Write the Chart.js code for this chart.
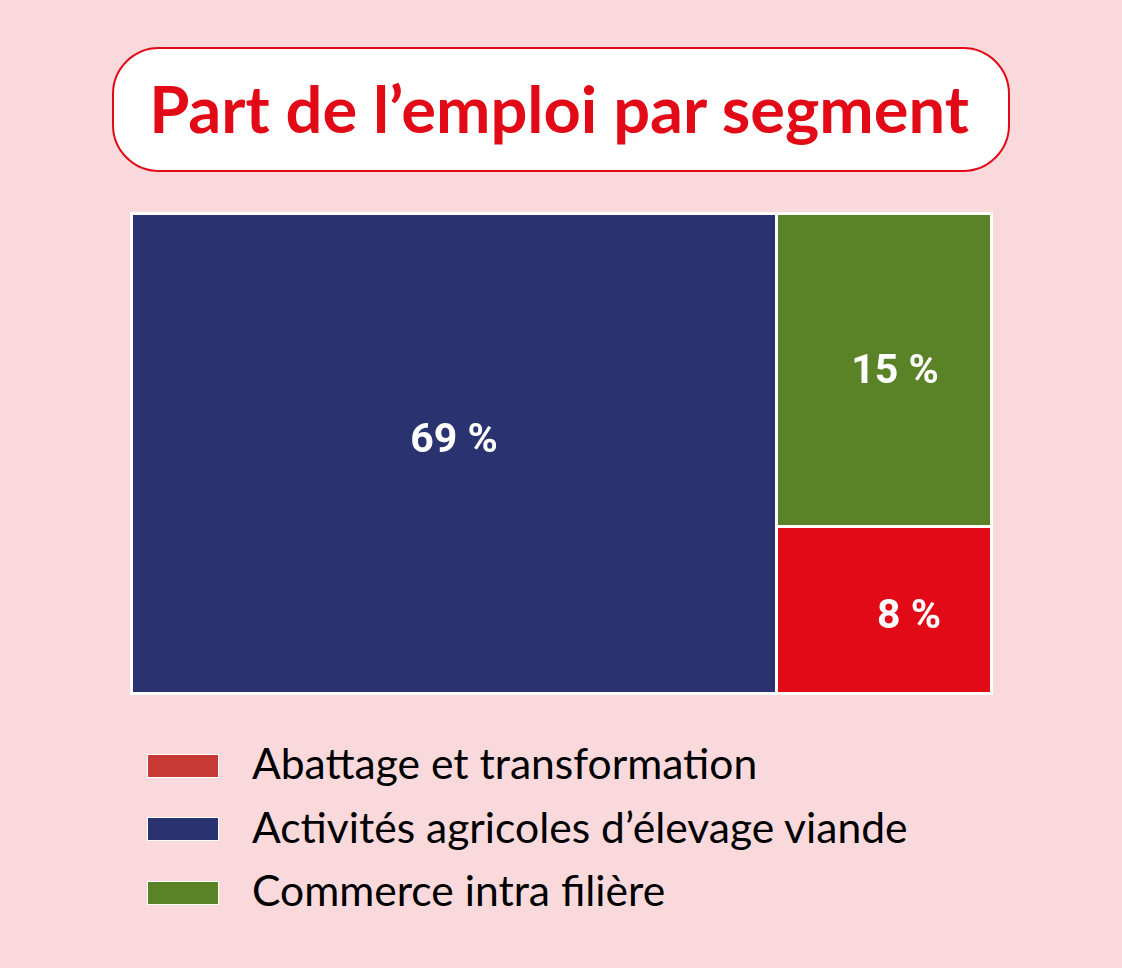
<!DOCTYPE html>
<html lang="fr">
<head>
<meta charset="utf-8">
<script src="https://cdn.jsdelivr.net/npm/chart.js@4.4.1/dist/chart.umd.min.js"></script>
<style>
  html, body { margin: 0; padding: 0; }
  body { width: 1122px; height: 968px; background: #f9d9dc; position: relative; overflow: hidden; font-family: Lato, sans-serif; }
  #titleBox { position: absolute; left: 112px; top: 47px; width: 898px; height: 125px; box-sizing: border-box; border: 2px solid #e20a17; border-radius: 47px; background: #fff; display: flex; align-items: center; justify-content: center; }
  #titleBox h1 { margin: 0 0 2px -4px; color: #e20a17; font-family: Lato, sans-serif; font-weight: 700; font-size: 65px; line-height: 1; white-space: nowrap; }
  #chartWrap { position: absolute; left: 130px; top: 212px; width: 863px; height: 483px; background: #fff; }
  #legend { position: absolute; left: 147px; top: 734px; margin: 0; padding: 0; list-style: none; }
  #legend li { display: flex; align-items: center; height: 63.5px; font-family: Lato, sans-serif; font-size: 42.6px; color: #000; }
  #legend li span.txt { position: relative; top: -3px; }
  #legend .sw { width: 70px; height: 22px; border: 1px solid #fff; margin-right: 33px; flex: none; }
</style>
</head>
<body>
<div id="titleBox"><h1>Part de l’emploi par segment</h1></div>
<div id="chartWrap"><canvas id="c"></canvas></div>
<ul id="legend"></ul>
<script>
// ---- data ----
const categories = ['Abattage et transformation', 'Activités agricoles d’élevage viande', 'Commerce intra filière'];
const shares = [8, 69, 15];            // % de l'emploi
const colors = ['#e20a16', '#2b3270', '#5a8227'];
const legendColors = ['#c83a36', '#2b3270', '#5a8227'];
const labelOffsets = [[25, 8], [0, -12], [11, 3]]; // px nudges of value labels

// ---- treemap layout (largest segment as a full-height column, others stacked) ----
const GAP = 1.5;
const W = 863, H = 483;
const order = shares.map((v, i) => i).sort((a, b) => shares[b] - shares[a]);
const total = shares.reduce((a, b) => a + b, 0);
const big = order[0];
const rest = order.slice(1);
const restTotal = rest.reduce((a, i) => a + shares[i], 0);
const padX = GAP * total / (W - 2 * GAP);
const padY = GAP * restTotal / (H - 2 * GAP);

const rects = [];
rects[big] = { x0: 0, x1: shares[big], y0: 0, y1: restTotal };
let acc = 0;
// stacked column: smallest at the bottom
const restSorted = rest.slice().sort((a, b) => shares[a] - shares[b]);
restSorted.forEach(i => {
  rects[i] = { x0: shares[big], x1: total, y0: acc, y1: acc + shares[i] };
  acc += shares[i];
});

const datasets = categories.map((name, i) => {
  const r = rects[i];
  return {
    label: name,
    data: [{ x: r.x0 + padX, y: r.y1 - padY }, { x: r.x1 - padX, y: r.y1 - padY }],
    fill: { value: r.y0 + padY },
    backgroundColor: colors[i],
    borderWidth: 0,
    pointRadius: 0,
    pointHoverRadius: 0,
    tension: 0
  };
});

const valueLabels = {
  id: 'valueLabels',
  afterDatasetsDraw(chart) {
    const { ctx, scales: { x, y } } = chart;
    ctx.save();
    ctx.fillStyle = '#fff';
    ctx.font = '700 41px Roboto';
    ctx.textAlign = 'center';
    ctx.textBaseline = 'middle';
    categories.forEach((c, i) => {
      const r = rects[i];
      const cx = (x.getPixelForValue(r.x0) + x.getPixelForValue(r.x1)) / 2 + labelOffsets[i][0];
      const cy = (y.getPixelForValue(r.y0) + y.getPixelForValue(r.y1)) / 2 + labelOffsets[i][1];
      ctx.fillText(shares[i] + ' %', cx, cy);
    });
    ctx.restore();
  }
};

new Chart(document.getElementById('c'), {
  type: 'line',
  data: { datasets },
  options: {
    responsive: true,
    maintainAspectRatio: false,
    animation: false,
    layout: { padding: 0 },
    plugins: { legend: { display: false }, tooltip: { enabled: false }, title: { display: false } },
    scales: {
      x: { type: 'linear', min: -padX, max: total + padX, display: false },
      y: { type: 'linear', min: -padY, max: restTotal + padY, display: false }
    }
  },
  plugins: [valueLabels]
});

// legend (HTML)
const ul = document.getElementById('legend');
categories.forEach((c, i) => {
  const li = document.createElement('li');
  const sw = document.createElement('span');
  sw.className = 'sw';
  sw.style.background = legendColors[i];
  const tx = document.createElement('span');
  tx.className = 'txt';
  tx.textContent = c;
  li.appendChild(sw);
  li.appendChild(tx);
  ul.appendChild(li);
});
</script>
</body>
</html>
